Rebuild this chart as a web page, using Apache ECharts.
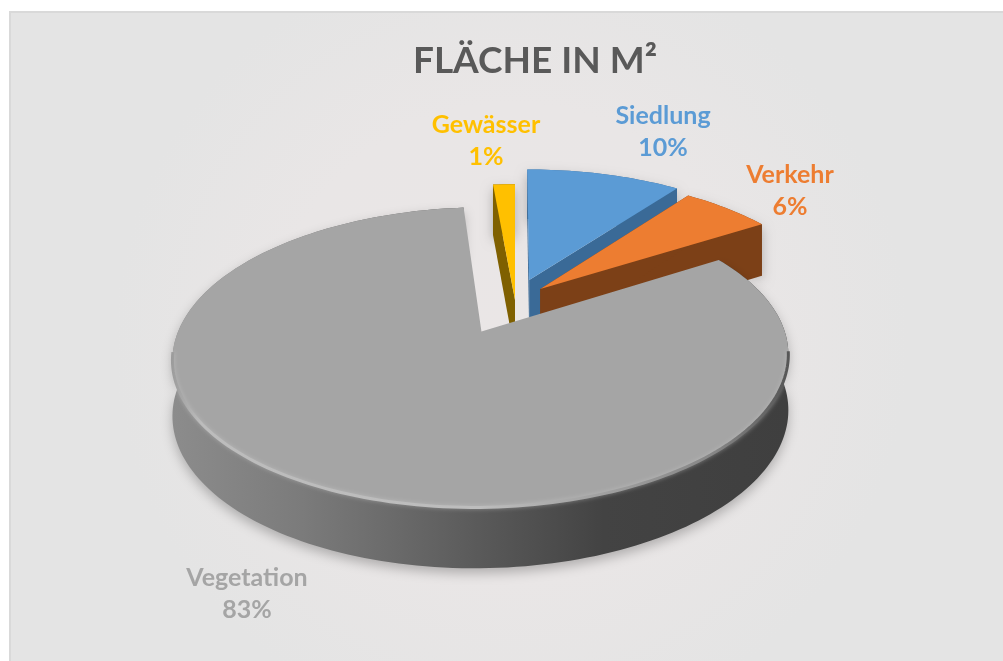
<!DOCTYPE html>
<html>
<head>
<meta charset="utf-8">
<style>
html, body { margin: 0; padding: 0; background: #fff; }
#chart { width: 1003px; height: 661px; }
</style>
<script src="https://cdn.jsdelivr.net/npm/echarts@6/dist/echarts.min.js"></script>
</head>
<body>
<div id="chart"></div>
<script>
// Flaeche in m2, labels show the rounded percent
var categories = ['Siedlung', 'Verkehr', 'Vegetation', 'Gewässer'];
var values = [10.1, 5.9, 82.6, 1.4];
var explode = [0.16, 0.12, 0.25, 0.0];
var drawOrder = [1, 2, 3, 0];
var topColors = ['#5b9bd5', '#ed7d31', '#a5a5a5', '#ffc000'];
var wallColors = ['#3a6a97', '#7c4017', '#555555', '#7f6000'];
var labelPos = [[663, 132], [790, 191], [247, 594], [486, 141]];

// fake 3D: disc seen in perspective, p pulls the back of the disc together
var cx = 515, cy = 300, R = 292, Ry = 135, p = 0.166, depth = 54;

function project(X, Y) {
    var s = 1 / (1 - p * Y);
    return [cx + R * X * s, cy + Ry * Y * s];
}

var total = values.reduce(function (a, b) { return a + b; }, 0);

function sliceAngles(i) {
    var start = 0;
    for (var k = 0; k < i; k++) {
        start += values[k] / total * Math.PI * 2;
    }
    return [start, start + values[i] / total * Math.PI * 2];
}

function rimPoints(i) {
    var ang = sliceAngles(i);
    var mid = (ang[0] + ang[1]) / 2;
    var ox = explode[i] * Math.sin(mid);
    var oy = -explode[i] * Math.cos(mid);
    var steps = Math.max(4, Math.ceil((ang[1] - ang[0]) * 40));
    var pts = [];
    for (var k = 0; k <= steps; k++) {
        var a = ang[0] + (ang[1] - ang[0]) * k / steps;
        pts.push(project(ox + Math.sin(a), oy - Math.cos(a)));
    }
    return {apex: project(ox, oy), pts: pts};
}

// wall height grows a little towards the viewer
function down(pt) {
    var v = (pt[1] - cy) / Ry;
    return [pt[0], pt[1] + depth * (1 + 0.5 * p * v)];
}

function renderSlice(params, api) {
    var i = params.dataIndex;
    var z = drawOrder[i] * 10;
    var rim = rimPoints(i);
    var pts = rim.pts;
    var last = pts[pts.length - 1];
    var children = [];

    // outer wall, swept down
    var wallStyle = {fill: wallColors[i]};
    if (categories[i] === 'Vegetation') {
        wallStyle.fill = new echarts.graphic.LinearGradient(0, 0, 1, 0, [
            {offset: 0, color: '#8c8c8c'},
            {offset: 0.21, color: '#7b7b7b'},
            {offset: 0.37, color: '#696969'},
            {offset: 0.53, color: '#565656'},
            {offset: 0.7, color: '#434343'},
            {offset: 1, color: '#3f3f3f'}
        ]);
    }
    wallStyle.shadowBlur = 12;
    wallStyle.shadowOffsetY = 5;
    wallStyle.shadowColor = 'rgba(0,0,0,0.25)';
    children.push({
        type: 'polygon',
        z2: z,
        shape: {points: pts.concat(pts.map(down).reverse())},
        style: wallStyle
    });

    // cut faces, only the ones turned to the viewer are left uncovered
    if (categories[i] !== 'Vegetation') {
        children.push({
            type: 'polygon',
            z2: z + 1,
            shape: {points: [rim.apex, last, down(last), down(rim.apex)]},
            style: {fill: wallColors[i]}
        });
        children.push({
            type: 'polygon',
            z2: z + 1,
            shape: {points: [rim.apex, pts[0], down(pts[0]), down(rim.apex)]},
            style: {fill: wallColors[i]}
        });
    }

    // top
    children.push({
        type: 'polygon',
        z2: z + 2,
        shape: {points: [rim.apex].concat(pts)},
        style: {fill: topColors[i]}
    });

    // bevel, front edge only
    if (categories[i] === 'Vegetation') {
        var front = pts.filter(function (pt) { return pt[1] > 350; });
        children.push({
            type: 'polyline',
            z2: z + 3,
            shape: {points: front},
            style: {
                fill: null,
                lineWidth: 3,
                shadowBlur: 4,
                shadowColor: 'rgba(205,205,205,0.5)',
                stroke: new echarts.graphic.LinearGradient(0, 0, 1, 0, [
                    {offset: 0, color: '#9a9a9a'},
                    {offset: 0.05, color: '#bcbcbc'},
                    {offset: 0.5, color: '#bdbdbd'},
                    {offset: 0.66, color: '#a6a6a6'},
                    {offset: 0.88, color: '#858585'},
                    {offset: 1, color: '#555555'}
                ])
            }
        });
    }

    // label
    children.push({
        type: 'text',
        z2: 100,
        x: labelPos[i][0],
        y: labelPos[i][1],
        style: {
            text: categories[i] + '\n' + Math.round(api.value(0)) + '%',
            fill: topColors[i],
            font: 'bold 25px Lato, "Open Sans", sans-serif',
            lineHeight: 32,
            align: 'center',
            verticalAlign: 'middle'
        }
    });

    return {type: 'group', children: children};
}

var chart = echarts.init(document.getElementById('chart'), null, {renderer: 'canvas'});

var option = {
    animation: false,
    title: {
        text: 'FLÄCHE IN M²',
        left: 530,
        top: 38,
        textAlign: 'center',
        textStyle: {
            color: '#595959',
            fontFamily: 'Lato, "Open Sans", sans-serif',
            fontWeight: 'bold',
            fontSize: 37
        }
    },
    graphic: [{
        type: 'rect',
        z: -10,
        shape: {x: 10, y: 12, width: 1003, height: 660},
        style: {
            stroke: '#d9d9d9',
            lineWidth: 2,
            fill: new echarts.graphic.RadialGradient(0.5, 0.5, 0.6, [
                {offset: 0, color: '#eae6e6'},
                {offset: 0.6, color: '#e9e6e6'},
                {offset: 1, color: '#e4e4e4'}
            ])
        }
    }],
    series: [{
        type: 'custom',
        coordinateSystem: 'none',
        renderItem: renderSlice,
        data: values.map(function (v) { return [v]; })
    }]
};

chart.setOption(option);
</script>
</body>
</html>
